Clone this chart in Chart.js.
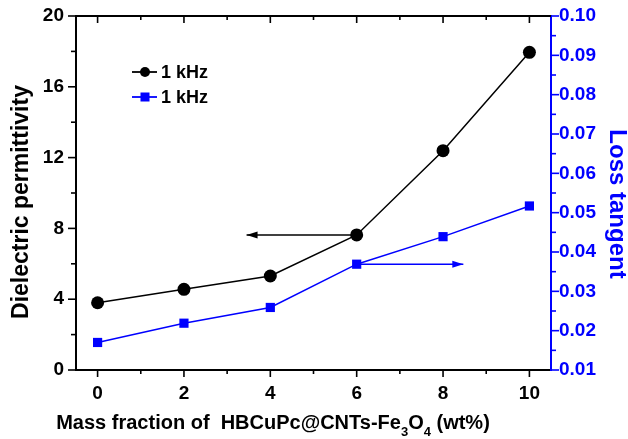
<!DOCTYPE html>
<html>
<head>
<meta charset="utf-8">
<script src="https://cdn.jsdelivr.net/npm/chart.js@4"></script>
<style>
html,body{margin:0;padding:0;background:#fff;}
#wrap{width:628px;height:439px;position:relative;}
</style>
</head>
<body>
<div id="wrap"><canvas id="c" width="628" height="439"></canvas></div>
<script>
// ---- data ----
const massFraction = [0, 2, 4, 6, 8, 10];
const permittivity = [3.8, 4.56, 5.31, 7.63, 12.39, 17.95];
const lossTangent = [0.017, 0.0219, 0.0259, 0.0369, 0.0439, 0.0517];
const seriesLabels = ['1 kHz', '1 kHz'];
const xTickValues = [0, 2, 4, 6, 8, 10];
const xMinorTicks = [1, 3, 5, 7, 9];
const leftTickValues = [0, 4, 8, 12, 16, 20];
const leftMinorTicks = [2, 6, 10, 14, 18];
const rightTickValues = [0.01, 0.02, 0.03, 0.04, 0.05, 0.06, 0.07, 0.08, 0.09, 0.10];
const rightMinorTicks = [0.015, 0.025, 0.035, 0.045, 0.055, 0.065, 0.075, 0.085, 0.095];
// arrows: [start x, end x] at the level of the point at x=6
const arrowBlackX = [6, 3.45];
const arrowBlueX = [6, 8.47];

const BLUE = '#0000ff';
const FONT = '"Liberation Sans", Arial, sans-serif';

const pts = (xs, ys) => xs.map((x, i) => ({x: x, y: ys[i]}));

const decor = {
  id: 'decor',
  afterDatasetsDraw(chart) {
    const ctx = chart.ctx, a = chart.chartArea;
    const sx = chart.scales.x, yl = chart.scales.y, yr = chart.scales.y1;
    ctx.save();
    // arrowheads
    [[2, '#000'], [3, BLUE]].forEach(([di, col]) => {
      const m = chart.getDatasetMeta(di).data;
      const p0 = m[0], p1 = m[m.length - 1];
      const dir = Math.sign(p1.x - p0.x);
      ctx.fillStyle = col;
      ctx.beginPath();
      ctx.moveTo(p1.x, p1.y);
      ctx.lineTo(p1.x - dir * 11, p1.y - 3.5);
      ctx.lineTo(p1.x - dir * 11, p1.y + 3.5);
      ctx.closePath();
      ctx.fill();
    });
    // top border
    ctx.strokeStyle = '#000';
    ctx.lineWidth = 2;
    ctx.beginPath();
    ctx.moveTo(a.left - 1, a.top);
    ctx.lineTo(a.right, a.top);
    ctx.stroke();
    // ticks
    ctx.lineWidth = 1.6;
    const vt = (x, y0, y1) => { ctx.beginPath(); ctx.moveTo(x, y0); ctx.lineTo(x, y1); ctx.stroke(); };
    const ht = (y, x0, x1) => { ctx.beginPath(); ctx.moveTo(x0, y); ctx.lineTo(x1, y); ctx.stroke(); };
    xTickValues.forEach(v => { const p = sx.getPixelForValue(v); vt(p, a.bottom, a.bottom + 7); vt(p, a.top, a.top + 7); });
    xMinorTicks.forEach(v => { const p = sx.getPixelForValue(v); vt(p, a.bottom, a.bottom + 4); vt(p, a.top, a.top + 4); });
    leftTickValues.forEach(v => ht(yl.getPixelForValue(v), a.left - 8, a.left));
    leftMinorTicks.forEach(v => ht(yl.getPixelForValue(v), a.left - 5, a.left));
    ctx.strokeStyle = BLUE;
    rightTickValues.forEach(v => ht(yr.getPixelForValue(v), a.right, a.right + 8));
    rightMinorTicks.forEach(v => ht(yr.getPixelForValue(v), a.right, a.right + 5));

    // legend
    ctx.font = 'bold 18px ' + FONT;
    ctx.textBaseline = 'middle';
    const legendY = [72, 97];
    [0, 1].forEach(i => {
      const ds = chart.data.datasets[i];
      const y = legendY[i];
      ctx.strokeStyle = ds.borderColor; ctx.lineWidth = 1.8;
      ht(y, 132, 157);
      ctx.fillStyle = ds.backgroundColor;
      if (ds.pointStyle === 'rect') ctx.fillRect(145 - 4.5, y - 4.5, 9, 9);
      else { ctx.beginPath(); ctx.arc(145, y, 5, 0, Math.PI * 2); ctx.fill(); }
      ctx.fillStyle = '#000';
      ctx.textAlign = 'left';
      ctx.fillText(ds.label, 161, y + 1);
    });

    // y title left
    ctx.font = 'bold 23px ' + FONT;
    ctx.fillStyle = '#000';
    ctx.save();
    ctx.translate(28, 202);
    ctx.rotate(-Math.PI / 2);
    ctx.textAlign = 'center';
    ctx.textBaseline = 'alphabetic';
    ctx.fillText('Dielectric permittivity', 0, 0);
    ctx.restore();
    // y title right
    ctx.save();
    ctx.font = 'bold 24px ' + FONT;
    ctx.fillStyle = BLUE;
    ctx.translate(610, 204);
    ctx.rotate(Math.PI / 2);
    ctx.textAlign = 'center';
    ctx.textBaseline = 'alphabetic';
    ctx.fillText('Loss tangent', 0, 0);
    ctx.restore();
    // x title with subscripts
    const parts = [['Mass fraction of  HBCuPc@CNTs-Fe', 0], ['3', 1], ['O', 0], ['4', 1], [' (wt%)', 0]];
    const big = 'bold 20px ' + FONT, small = 'bold 13px ' + FONT;
    let total = 0;
    parts.forEach(([t, s]) => { ctx.font = s ? small : big; total += ctx.measureText(t).width; });
    let x = 273 - total / 2;
    ctx.textAlign = 'left';
    ctx.textBaseline = 'alphabetic';
    parts.forEach(([t, s]) => {
      ctx.font = s ? small : big;
      ctx.fillText(t, x, s ? 436 : 429);
      x += ctx.measureText(t).width;
    });
    ctx.restore();
  }
};

const noPadV = s => { s.paddingTop = 0; s.paddingBottom = 0; };

new Chart(document.getElementById('c'), {
  type: 'line',
  data: {
    datasets: [
      {label: seriesLabels[0], data: pts(massFraction, permittivity), yAxisID: 'y',
       borderColor: '#000', backgroundColor: '#000', borderWidth: 1.5,
       pointStyle: 'circle', pointRadius: 6.5, pointBorderWidth: 0},
      {label: seriesLabels[1], data: pts(massFraction, lossTangent), yAxisID: 'y1',
       borderColor: BLUE, backgroundColor: BLUE, borderWidth: 1.5,
       pointStyle: 'rect', pointRadius: 6.5, pointBorderWidth: 0},
      {label: 'arrow1', data: pts(arrowBlackX, [permittivity[3], permittivity[3]]), yAxisID: 'y',
       borderColor: '#000', borderWidth: 1.5, pointRadius: 0},
      {label: 'arrow2', data: pts(arrowBlueX, [lossTangent[3], lossTangent[3]]), yAxisID: 'y1',
       borderColor: BLUE, borderWidth: 1.5, pointRadius: 0}
    ]
  },
  options: {
    responsive: false,
    animation: false,
    events: [],
    layout: {padding: {top: 16, left: 0, right: 0, bottom: 0}},
    plugins: {legend: {display: false}, tooltip: {enabled: false}},
    scales: {
      x: {
        type: 'linear', position: 'bottom', min: -0.5, max: 10.5,
        afterBuildTicks: s => { s.ticks = xTickValues.map(v => ({value: v})); },
        afterFit: s => { s.height = 69; s.paddingLeft = 0; s.paddingRight = 0; },
        grid: {display: false, drawTicks: false},
        border: {display: true, color: '#000', width: 2},
        ticks: {color: '#000', font: {family: FONT, size: 19, weight: 'bold'}, padding: 12, maxRotation: 0}
      },
      y: {
        type: 'linear', position: 'left', min: 0, max: 20,
        afterBuildTicks: s => { s.ticks = leftTickValues.map(v => ({value: v})); },
        afterFit: s => { s.width = 76; noPadV(s); },
        grid: {display: false, drawTicks: false},
        border: {display: true, color: '#000', width: 2},
        ticks: {color: '#000', font: {family: FONT, size: 19, weight: 'bold'}, padding: 12}
      },
      y1: {
        type: 'linear', position: 'right', min: 0.01, max: 0.10,
        afterBuildTicks: s => { s.ticks = rightTickValues.map(v => ({value: v})); },
        afterFit: s => { s.width = 77; noPadV(s); },
        grid: {display: false, drawTicks: false},
        border: {display: true, color: BLUE, width: 2},
        ticks: {color: BLUE, font: {family: FONT, size: 19, weight: 'bold'}, padding: 8,
                callback: v => v.toFixed(2)}
      }
    }
  },
  plugins: [decor]
});
</script>
</body>
</html>
